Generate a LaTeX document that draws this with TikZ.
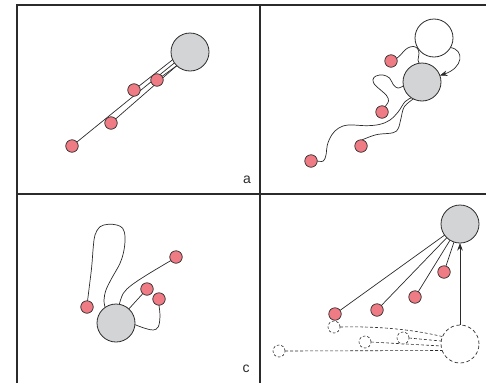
\documentclass[tikz,border=0pt]{standalone}
\usepackage{fontspec}
\setmainfont{Liberation Sans}
\usetikzlibrary{arrows.meta,backgrounds}

\definecolor{ink}{HTML}{2B2B2B}
\definecolor{bodygray}{HTML}{D3D4D6}
\definecolor{dotpink}{HTML}{EF7B85}

\tikzset{
  frame/.style={draw=ink, line width=1.1pt},
  body/.style={circle, draw=ink, line width=0.8pt, fill=bodygray,
    minimum size=38pt, inner sep=0pt, outer sep=0pt},
  openbody/.style={circle, draw=ink, line width=0.8pt, fill=white,
    minimum size=38pt, inner sep=0pt, outer sep=0pt},
  ghostbody/.style={circle, draw=ink, line width=0.7pt, dash pattern=on 3.5pt off 2.5pt,
    fill=white, minimum size=38pt, inner sep=0pt, outer sep=0pt},
  bead/.style={circle, draw=ink, line width=0.7pt, fill=dotpink,
    minimum size=12.5pt, inner sep=0pt, outer sep=0pt},
  ghostbead/.style={circle, draw=ink, line width=0.6pt, dash pattern=on 2.5pt off 2pt,
    fill=white, minimum size=12pt, inner sep=0pt, outer sep=0pt},
  tether/.style={draw=ink, line width=0.7pt},
  ghosttether/.style={draw=ink, line width=0.6pt, dash pattern=on 3pt off 2pt},
  pull/.style={draw=ink, line width=0.7pt, -{Stealth[length=7.5pt,width=5.5pt]}},
  tag/.style={font=\fontsize{14}{16}\selectfont, inner sep=0pt, text=ink},
}

\begin{document}
\begin{tikzpicture}[x=1pt, y=-1pt]
\useasboundingbox (0,0) rectangle (486,383);

% panel frame
\draw[frame] (17,383) -- (17,5) -- (486,5);
\draw[frame] (260,5) -- (260,383);
\draw[frame] (17,194) -- (486,194);

% ---------- panel a: straight tethers ----------
\node[body] (A) at (190,52) {};
\node[bead] (a1) at (157,80) {};
\node[bead] (a2) at (134,90) {};
\node[bead] (a3) at (111,123) {};
\node[bead] (a4) at (72,146) {};
\node[tag] (la) at (247,180) {a};

% ---------- panel b: wandering tethers ----------
\node[openbody] (W) at (434,38) {};
\node[body] (B) at (422,82) {};
\node[bead] (b1) at (391,61) {};
\node[bead] (b2) at (382,112) {};
\node[bead] (b3) at (361,146) {};
\node[bead] (b4) at (311,161) {};

% ---------- panel c: looped tethers ----------
\node[body] (C) at (116,323) {};
\node[bead] (c1) at (87,307) {};
\node[bead] (c2) at (176,257) {};
\node[bead] (c3) at (147,289) {};
\node[bead] (c4) at (159,299) {};
\node[tag] (lc) at (246,369) {c};

% ---------- panel d: taut tethers and earlier state ----------
\node[body] (D) at (460,224) {};
\node[bead] (d1) at (444,272) {};
\node[bead] (d2) at (415,297) {};
\node[bead] (d3) at (377,310) {};
\node[bead] (d4) at (335,314) {};
\node[ghostbody] (E) at (460,344) {};
\node[ghostbead] (e1) at (334,327) {};
\node[ghostbead] (e2) at (365,342) {};
\node[ghostbead] (e3) at (403,338) {};
\node[ghostbead] (e4) at (279,351) {};

\begin{scope}[on background layer]
  % panel a: three nearly parallel strands
  \draw[tether] (a2) -- (A.204);
  \draw[tether] (a4) -- (A.215);
  \draw[tether] (a3) -- (A.226);
  \draw[tether] (a1) -- (A.226);

  % panel b
  \draw[tether] plot[smooth, tension=0.6] coordinates {(b1.25) (400.5,55) (404,51)
    (408.3,47.7) (413.3,46.5) (417.3,48.3) (419,53.3) (418,60) (B.98)};
  \draw[tether] plot[smooth, tension=0.6] coordinates {(b2.60) (388.5,101)
    (386.5,95.5) (380,89.5) (374.5,84.5) (373,79.5) (376,76) (383,75)
    (389.5,78) (393.5,85) (398,88) (B.192)};
  \draw[tether] plot[smooth, tension=0.6] coordinates {(b3.80) (370,136.7)
    (378.3,134.3) (393.3,132.7) (398.3,128.3) (401,118.3) (404.3,106.7) (B.243)};
  \draw[tether] plot[smooth, tension=0.6] coordinates {(b4.0) (323.3,161)
    (326,155) (327.3,145) (331.7,135) (338.3,128.3) (348.3,125) (366.7,125.7)
    (380,124.3) (390,120) (398.3,111.7) (405,101.7) (B.236)};
  \draw[pull] (W.-30) .. controls (465,50) and (463,68) .. (B.20);

  % panel c
  \draw[tether] plot[smooth, tension=0.6] coordinates {(c1.85) (89.3,286.7)
    (91.7,266.7) (93.3,246.7) (95,235) (100,226.7) (108.3,224.3) (116.7,225)
    (122.7,228.3) (125,236.7) (124,250) (120,263.3) (111.7,278.3) (106,290)
    (104,300) (C.125)};
  \draw[tether] plot[smooth, tension=0.6] coordinates {(c2.215) (163.3,265)
    (146.7,275) (131.7,285) (123.3,293.3) (C.80)};
  \draw[tether] (c3) -- (C);
  \draw[tether] plot[smooth, tension=0.6] coordinates {(c4.270) (160,316.7)
    (158.3,326.7) (153.3,330) (145,328.3) (C.-5)};

  % panel d
  \draw[tether] (d1) -- (D);
  \draw[tether] (d2) -- (D);
  \draw[tether] (d3) -- (D);
  \draw[tether] (d4) -- (D);
  \draw[pull] (E) -- (D);
  \draw[ghosttether] (e1.east) .. controls (380,326) and (415,330) .. (E.157);
  \draw[ghosttether] (e3.east) -- (E.171);
  \draw[ghosttether] (e2.east) -- (E.186);
  \draw[ghosttether] (e4.east) -- (E.200);
\end{scope}
\end{tikzpicture}
\end{document}
